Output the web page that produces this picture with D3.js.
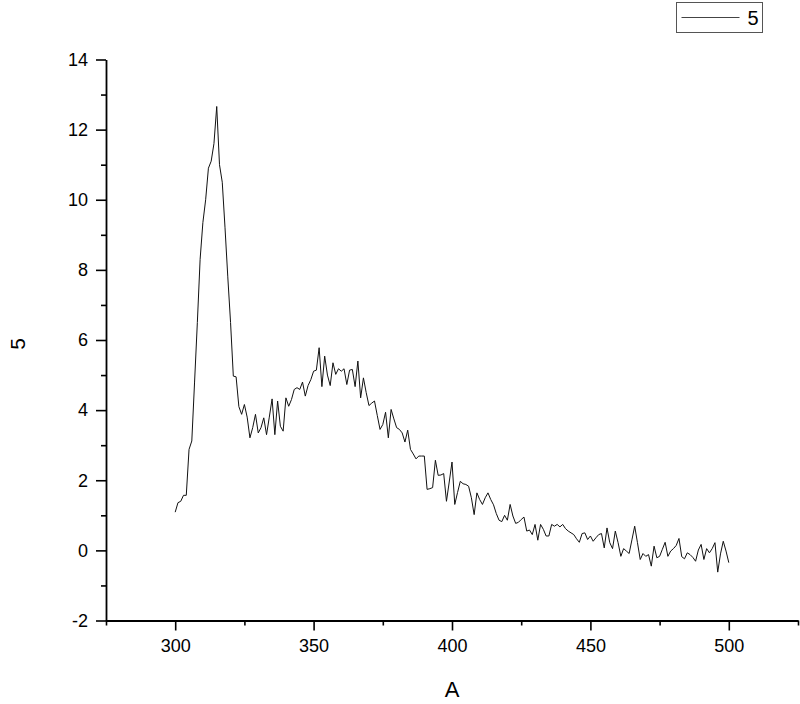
<!DOCTYPE html>
<html>
<head>
<meta charset="utf-8">
<script src="https://cdn.jsdelivr.net/npm/d3@7"></script>
<style>
  html, body { margin: 0; padding: 0; background: #ffffff; }
  svg { display: block; font-family: "Liberation Sans", Arial, sans-serif; }
</style>
</head>
<body>
<svg id="chart" width="800" height="704"></svg>
<script>
// Series values, one per unit of A from 300 to 500
const startA = 300;
const series5 = [
  1.09, 1.36, 1.4, 1.57, 1.57, 2.88, 3.12, 4.8, 6.5, 8.3,
  9.35, 10.0, 10.9, 11.1, 11.6, 12.66, 11.0, 10.5, 9.2, 7.8,
  6.5, 4.97, 4.95, 4.1, 3.88, 4.16, 3.8, 3.21, 3.5, 3.88,
  3.35, 3.5, 3.78, 3.3, 3.8, 4.32, 3.3, 4.26, 3.54, 3.4,
  4.35, 4.11, 4.3, 4.59, 4.64, 4.59, 4.8, 4.4, 4.7, 4.87,
  5.11, 5.14, 5.78, 4.67, 5.54, 5.0, 4.7, 5.35, 5.02, 5.18,
  5.11, 5.18, 4.73, 5.14, 5.16, 4.67, 5.4, 4.35, 4.92, 4.5,
  4.13, 4.2, 4.26, 3.85, 3.45, 3.59, 3.94, 3.21, 4.02, 3.75,
  3.5, 3.45, 3.35, 3.09, 3.43, 2.88, 2.75, 2.61, 2.69, 2.69,
  2.69, 1.74, 1.76, 1.79, 2.57, 2.14, 2.15, 2.19, 1.4, 1.95,
  2.52, 1.31, 1.65, 1.97, 1.9, 1.88, 1.83, 1.5, 1.02, 1.64,
  1.45, 1.31, 1.5, 1.64, 1.45, 1.3, 1.05, 0.86, 0.82, 1.0,
  0.86, 1.31, 0.98, 0.77, 0.8, 0.88, 0.95, 0.55, 0.58, 0.45,
  0.74, 0.29, 0.74, 0.6, 0.41, 0.41, 0.74, 0.69, 0.74, 0.67,
  0.74, 0.62, 0.55, 0.5, 0.45, 0.33, 0.23, 0.48, 0.5, 0.31,
  0.41, 0.26, 0.36, 0.45, 0.48, 0.07, 0.64, 0.22, 0.05, 0.55,
  0.22, -0.17, 0.05, -0.02, -0.09, 0.3, 0.69, 0.22, -0.26, -0.09,
  -0.17, -0.12, -0.45, 0.12, -0.21, -0.17, 0.03, 0.23, -0.17, -0.02,
  0.05, 0.14, 0.34, -0.18, -0.24, -0.07, -0.12, -0.2, -0.31, 0.01,
  0.17, -0.26, 0.05, -0.07, 0.05, 0.22, -0.62, -0.1, 0.26, -0.02, -0.35
];

// Tick values
const xMajorTicks = [300, 350, 400, 450, 500];
const xMinorTicks = [275, 325, 375, 425, 475, 525];
const yMajorTicks = [-2, 0, 2, 4, 6, 8, 10, 12, 14];
const yMinorTicks = [-1, 1, 3, 5, 7, 9, 11, 13];

// Labels
const xTitle = "A";
const yTitle = "5";
const legendLabel = "5";

const svg = d3.select("#chart");
const AXIS_COLOR = "#000000";
const LINE_COLOR = "#111111";

// Plot area
const margins = { left: 106, right: 798, top: 59.5, bottom: 620.5 };

const x = d3.scaleLinear().domain([275, 525]).range([margins.left, margins.right]);
const y = d3.scaleLinear().domain([-2, 14]).range([margins.bottom, margins.top]);

const data = series5.map((v, i) => ({ a: startA + i, v: v }));

// Plain hyphen for negatives, like the reference
const plainFormat = (d) => String(d);

// Minor ticks (no labels)
const xMinorAxis = d3.axisBottom(x).tickValues(xMinorTicks).tickSize(5).tickSizeOuter(0).tickFormat("");
const yMinorAxis = d3.axisLeft(y).tickValues(yMinorTicks).tickSize(5).tickSizeOuter(0).tickFormat("");

svg.append("g")
  .attr("transform", `translate(0, ${margins.bottom})`)
  .call(xMinorAxis)
  .call((g) => g.select(".domain").remove())
  .selectAll("line").attr("stroke", AXIS_COLOR).attr("stroke-width", 1.6);

svg.append("g")
  .attr("transform", `translate(${margins.left}, 0)`)
  .call(yMinorAxis)
  .call((g) => g.select(".domain").remove())
  .selectAll("line").attr("stroke", AXIS_COLOR).attr("stroke-width", 1.6);

// Major axes
const xAxis = d3.axisBottom(x).tickValues(xMajorTicks).tickSize(10).tickSizeOuter(0).tickPadding(9).tickFormat(plainFormat);
const yAxis = d3.axisLeft(y).tickValues(yMajorTicks).tickSize(10).tickSizeOuter(0).tickPadding(8).tickFormat(plainFormat);

const gx = svg.append("g")
  .attr("transform", `translate(0, ${margins.bottom})`)
  .call(xAxis);
gx.select(".domain").attr("stroke", AXIS_COLOR).attr("stroke-width", 1.8);
gx.selectAll(".tick line").attr("stroke", AXIS_COLOR).attr("stroke-width", 1.6);
gx.selectAll(".tick text")
  .attr("fill", "#000")
  .style("font-size", "18px")
  .style("font-family", "'Liberation Sans', Arial, sans-serif");

const gy = svg.append("g")
  .attr("transform", `translate(${margins.left}, 0)`)
  .call(yAxis);
gy.select(".domain").attr("stroke", AXIS_COLOR).attr("stroke-width", 1.8);
gy.selectAll(".tick line").attr("stroke", AXIS_COLOR).attr("stroke-width", 1.6);
gy.selectAll(".tick text")
  .attr("fill", "#000")
  .style("font-size", "18px")
  .style("font-family", "'Liberation Sans', Arial, sans-serif");

// Axis titles
svg.append("text")
  .text(xTitle)
  .attr("x", x(400))
  .attr("y", 697)
  .attr("text-anchor", "middle")
  .attr("font-size", 22)
  .attr("fill", "#000");

svg.append("text")
  .text(yTitle)
  .attr("transform", `translate(25, ${y(6) + 4}) rotate(-90)`)
  .attr("text-anchor", "middle")
  .attr("font-size", 21)
  .attr("fill", "#000");

// Data line
const line = d3.line()
  .x((d) => x(d.a))
  .y((d) => y(d.v));

svg.append("path")
  .datum(data)
  .attr("d", line)
  .attr("fill", "none")
  .attr("stroke", LINE_COLOR)
  .attr("stroke-width", 1)
  .attr("stroke-linejoin", "miter");

// Legend
const legend = svg.append("g").attr("transform", "translate(676.5, 2.5)");
legend.append("rect")
  .attr("width", 86)
  .attr("height", 30)
  .attr("fill", "#fff")
  .attr("stroke", "#555")
  .attr("stroke-width", 1);
legend.append("line")
  .attr("x1", 5).attr("x2", 63)
  .attr("y1", 15).attr("y2", 15)
  .attr("stroke", "#444")
  .attr("stroke-width", 1);
legend.append("text")
  .text(legendLabel)
  .attr("x", 71)
  .attr("y", 22.5)
  .attr("font-size", 20)
  .attr("fill", "#000");
</script>
</body>
</html>
